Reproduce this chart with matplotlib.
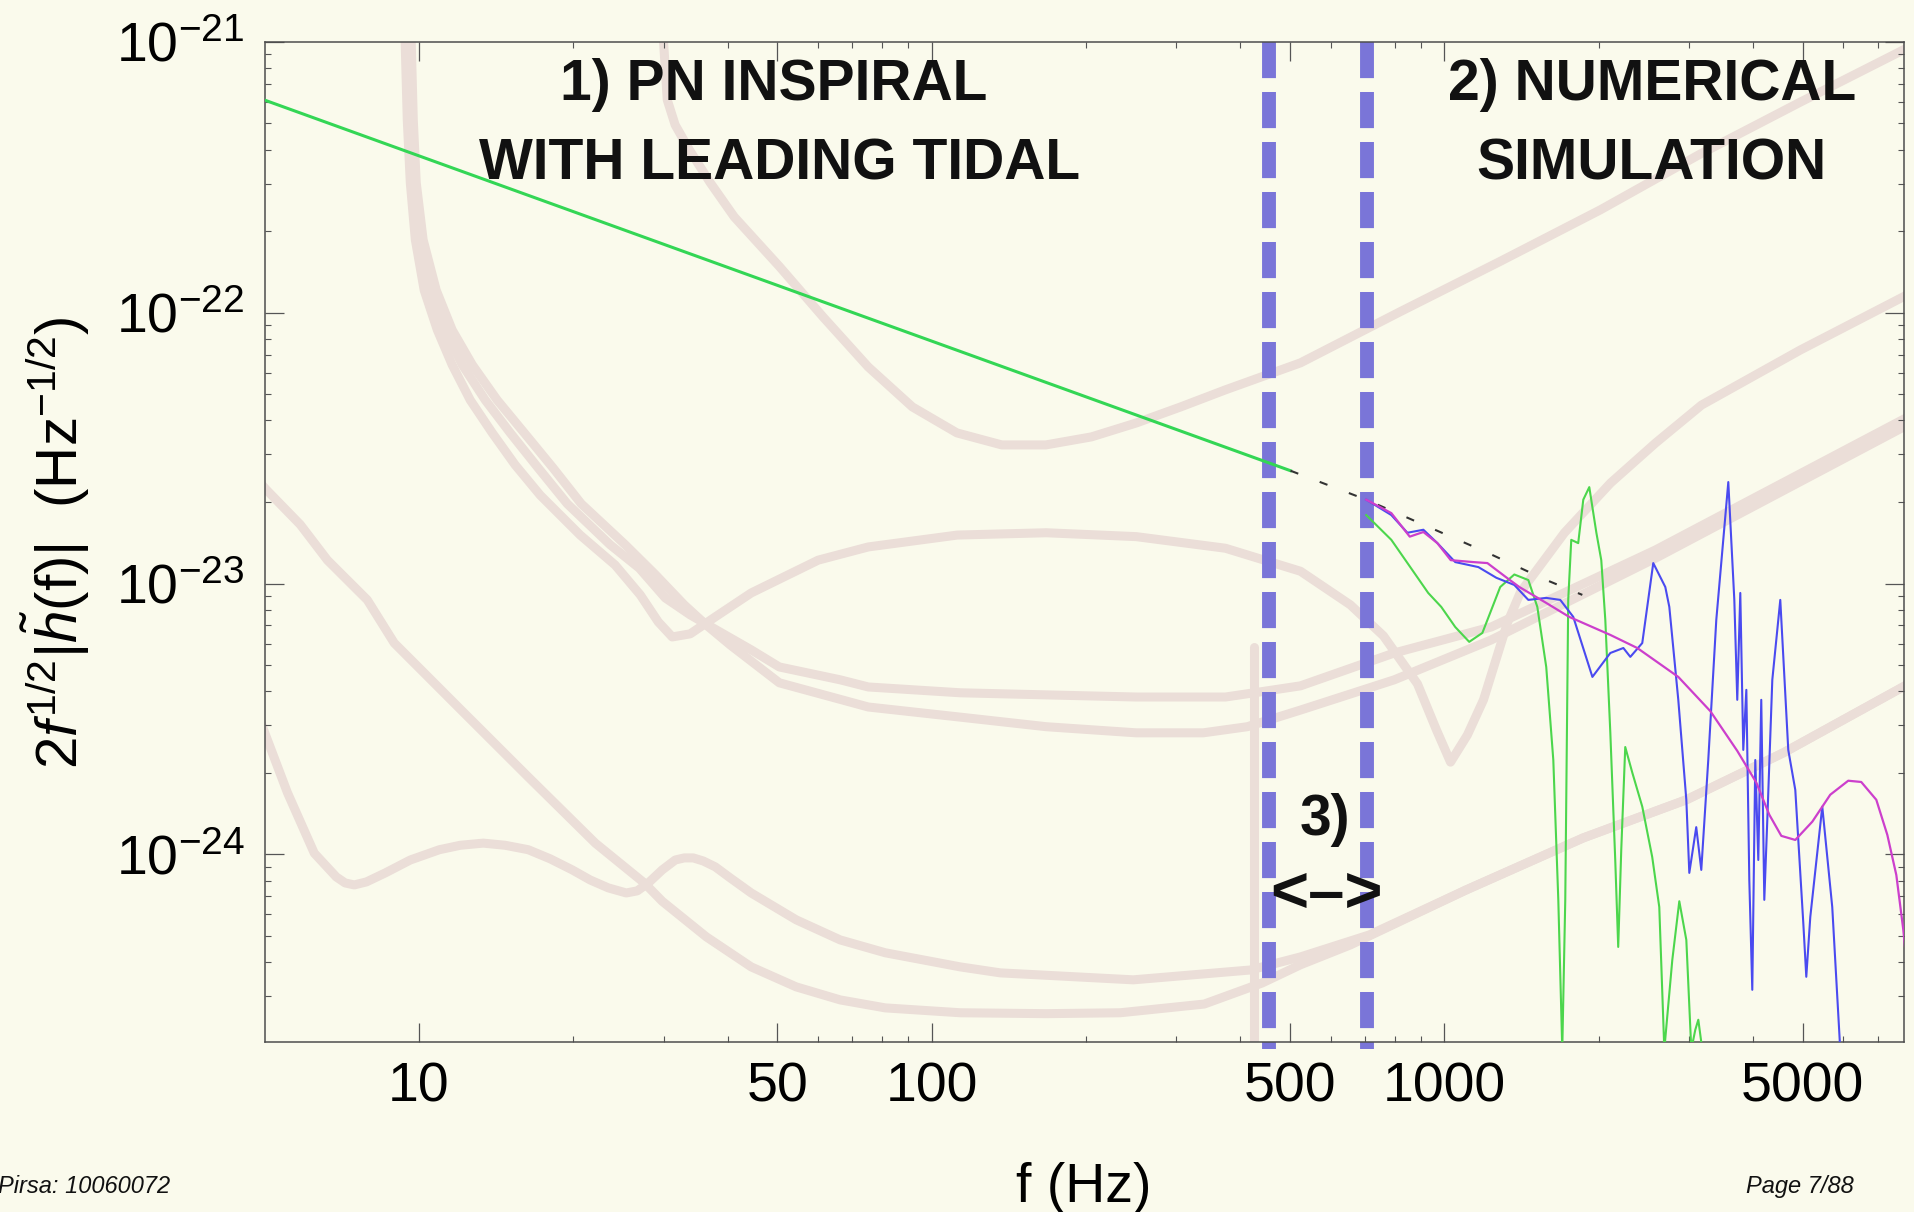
import numpy as np
import matplotlib
matplotlib.use("Agg")
import matplotlib.pyplot as plt
from matplotlib.ticker import FixedLocator, FuncFormatter, NullFormatter

plt.rcParams["font.family"] = ["Liberation Sans", "DejaVu Sans"]
plt.rcParams["mathtext.fontset"] = "custom"
plt.rcParams["mathtext.rm"] = "Liberation Sans"
plt.rcParams["mathtext.it"] = "Liberation Sans:italic"
plt.rcParams["mathtext.bf"] = "Liberation Sans:bold"

AMP_UNIT = 1e-24  # amplitudes below are listed in units of 1e-24 Hz^-1/2

# ---- detector noise curves (frequency in Hz, amplitude in AMP_UNIT) ----
noise_a_freq = [29.7, 30.0, 30.5, 31.6, 33.7, 37.0, 41.2, 50.5, 61.4, 75.2, 91.7, 112, 137,
                167, 205, 251, 306, 374, 524, 821, 1287, 2016, 3159, 4950, 7652, 8860]
noise_a_amp = [1205, 1000, 611, 494, 399, 302, 226, 148, 96.5, 63.1, 44.9, 36.0, 32.5,
               32.5, 34.8, 39.2, 44.9, 51.9, 65.3, 101, 155, 240, 386, 600, 911, 1052]

noise_b_freq = [9.32, 9.40, 9.49, 9.62, 9.84, 10.24, 10.86, 11.61, 12.59, 13.90, 15.41,
                17.24, 20.63, 24.14, 27.02, 29.29, 31.19, 33.82, 37.84, 44.47, 60.07,
                75.23, 112.2, 167.3, 250.6, 374.1, 524.1, 655.7, 760.5, 886.2, 965, 1028,
                1109, 1192, 1327, 1408, 1715, 2109, 2580, 3173, 4950, 8873]
noise_b_amp = [1205, 1000, 515, 302, 186, 121, 86.4, 64.2, 47.6, 36.0, 27.4,
               21.2, 15.1, 11.7, 9.08, 7.22, 6.35, 6.52, 7.53, 9.23, 12.2,
               13.65, 15.1, 15.4, 14.9, 13.5, 11.1, 8.34, 6.41, 4.26, 2.88, 2.19,
               2.76, 3.72, 7.15, 9.31, 15.4, 23.5, 33.0, 45.6, 72.9, 129]

noise_c_freq = [9.45, 9.53, 9.62, 9.75, 10.01, 10.52, 11.25, 12.15, 13.47, 15.07, 17.09,
                19.47, 23.61, 26.90, 30.23, 33.82, 37.17, 44.47, 50.45, 66.32, 75.23,
                113.7, 167.3, 250.6, 374.1, 437.4, 524.1, 798.4, 1234, 2580, 8873]
noise_c_amp = [1205, 1000, 515, 302, 186, 121, 86.4, 64.2, 47.6, 36.0, 26.7,
               19.7, 13.9, 11.4, 8.85, 7.66, 6.91, 5.69, 4.92, 4.41, 4.15,
               3.95, 3.88, 3.81, 3.81, 3.98, 4.19, 5.54, 6.91, 13.3, 45.6]

noise_d_freq = [9.58, 9.66, 9.75, 9.88, 10.19, 10.81, 11.61, 12.71, 14.21, 16.05, 18.27,
                20.73, 25.26, 28.90, 32.92, 36.34, 40.48, 50.45, 75.23, 112.2, 167.3,
                250.6, 338.6, 412.7, 524.1, 798.4, 1234, 2580, 8873]
noise_d_amp = [1205, 1000, 515, 302, 186, 121, 86.4, 64.2, 47.6, 36.0, 26.7,
               19.7, 13.9, 10.8, 8.34, 7.03, 5.93, 4.30, 3.50, 3.22, 2.96,
               2.81, 2.81, 2.96, 3.41, 4.41, 6.19, 12.4, 42.7]

noise_e_freq = [4.80, 5.04, 5.87, 6.63, 7.93, 8.95, 12.09, 16.34, 22.08, 27.51, 29.82,
                36.34, 44.47, 54.43, 66.32, 81.19, 113.7, 167.3, 233.3, 340.2, 441.3,
                524.1, 655.7, 1103, 1866, 2964, 4581, 8873]
noise_e_amp = [24.6, 22.2, 16.5, 12.2, 8.70, 6.03, 3.41, 1.93, 1.10, 0.784, 0.671,
               0.496, 0.384, 0.324, 0.290, 0.271, 0.260, 0.258, 0.260, 0.280, 0.335,
               0.391, 0.463, 0.739, 1.15, 1.59, 2.37, 4.72]

noise_f_freq = [4.80, 5.04, 5.54, 6.25, 6.90, 7.18, 7.48, 7.90, 8.60, 9.62, 10.96, 12.04,
                13.35, 14.73, 16.34, 18.04, 19.91, 21.58, 23.40, 25.37, 26.66, 28.01,
                29.82, 31.62, 32.92, 34.28, 35.85, 37.84, 40.48, 44.47, 54.43, 66.32,
                81.19, 113.7, 136.1, 247.3, 418.2, 524.1, 713.9, 1103, 1866, 2964, 4581,
                8873]
noise_f_amp = [3.47, 2.71, 1.69, 1.01, 0.825, 0.784, 0.771, 0.791, 0.854, 0.953, 1.04, 1.08,
               1.10, 1.08, 1.04, 0.962, 0.876, 0.804, 0.752, 0.720, 0.733, 0.784,
               0.876, 0.953, 0.970, 0.970, 0.945, 0.899, 0.818, 0.720, 0.573, 0.483,
               0.433, 0.384, 0.365, 0.344, 0.374, 0.418, 0.504, 0.739, 1.15, 1.59, 2.37,
               4.72]

noise_g_freq = [426, 426]
noise_g_amp = [0.19, 5.83]

# ---- 1) post-Newtonian inspiral with leading tidal term ----
pn_freq = [5.0, 501]
pn_amp = [610, 26.1]
pn_ext_freq = [501, 704, 930, 1213, 1581, 1858]
pn_ext_amp = [26.1, 20.4, 16.2, 13.0, 10.3, 9.08]

# ---- 3) matching window ----
match_window = [454, 705]

# ---- 2) numerical simulations ----
nr_magenta_freq = [704, 788, 856, 910, 969, 1029, 1139, 1213, 1315, 1400, 1580, 1752,
                   2107, 2378, 2859, 3301, 3726, 4059, 4303, 4541, 4835, 5219, 5657,
                   6133, 6502, 6957, 7310, 7611, 7854, 8104]
nr_magenta_amp = [20.4, 18.2, 14.9, 15.5, 14.1, 12.2, 12.0, 11.9, 10.6, 9.71, 8.48, 7.53,
                  6.46, 5.78, 4.52, 3.38, 2.41, 1.84, 1.40, 1.17, 1.13, 1.32, 1.66,
                  1.87, 1.85, 1.59, 1.18, 0.839, 0.526, 0.290]

nr_blue_freq = [704, 788, 847, 910, 969, 1050, 1165, 1263, 1369, 1458, 1580, 1683, 1784,
                1944, 2107, 2234, 2305, 2432, 2555, 2697, 2746, 2859, 2964, 3004, 3099,
                3170, 3271, 3391, 3579, 3677, 3726, 3777, 3828, 3881, 3933, 3986, 4040,
                4095, 4150, 4207, 4264, 4361, 4520, 4685, 4835, 5012, 5080, 5172, 5458,
                5708, 5917]
nr_blue_amp = [20.4, 17.9, 15.4, 15.8, 14.1, 12.0, 11.5, 10.5, 9.88, 8.70, 8.85, 8.70, 7.53,
               4.52, 5.54, 5.78, 5.36, 6.03, 11.9, 9.71, 8.20, 3.72, 1.59, 0.854, 1.26,
               0.876, 2.23, 7.34, 23.7, 8.70, 3.72, 9.23, 2.43, 4.05, 0.804, 0.316, 2.23,
               0.953, 3.72, 0.679, 1.34, 4.41, 8.70, 2.43, 1.73, 0.558, 0.353, 0.587, 1.50,
               0.639, 0.190]

nr_green_freq = [704, 788, 858, 930, 986, 1050, 1118, 1186, 1285, 1369, 1458, 1518, 1580,
                 1631, 1668, 1698, 1721, 1744, 1768, 1824, 1866, 1917, 1979, 2023, 2060,
                 2107, 2154, 2183, 2213, 2253, 2326, 2432, 2543, 2625, 2685, 2783, 2872,
                 2964, 3031, 3086, 3128, 3184]
nr_green_amp = [17.9, 14.5, 11.5, 9.23, 8.20, 6.91, 6.09, 6.57, 9.71, 10.8, 10.3, 8.20, 4.92,
                2.23, 0.679, 0.19, 0.679, 8.70, 14.5, 14.1, 20.4, 22.7, 15.4, 12.2, 7.34,
                2.81, 0.953, 0.455, 1.04, 2.49, 2.00, 1.50, 0.978, 0.639, 0.19, 0.407, 0.671,
                0.483, 0.19, 0.225, 0.245, 0.19]

x_ticks = [10, 50, 100, 500, 1000, 5000]
x_minor = [20, 30, 40, 60, 70, 80, 90, 200, 300, 400, 600, 700, 800, 900,
           2000, 3000, 4000, 6000, 7000]
y_ticks = [1e-24, 1e-23, 1e-22, 1e-21]

BG = "#FAFAEC"
NOISE = "#EBDED8"
DASH = "#7A75D8"


def amp(values):
    return np.asarray(values) * AMP_UNIT


fig = plt.figure(figsize=(19.14, 12.12), dpi=100, facecolor=BG)
ax = fig.add_axes([0.1387, 0.1399, 0.8561, 0.8255])
ax.set_facecolor(BG)
ax.set_xscale("log")
ax.set_yscale("log")
ax.set_xlim(5.02, 7880)
ax.set_ylim(2.02e-25, 1e-21)

noise_style = dict(color=NOISE, lw=6.5, solid_capstyle="round", solid_joinstyle="round", zorder=1)
for fq, am in [(noise_e_freq, noise_e_amp), (noise_f_freq, noise_f_amp),
               (noise_d_freq, noise_d_amp), (noise_c_freq, noise_c_amp),
               (noise_b_freq, noise_b_amp), (noise_a_freq, noise_a_amp),
               (noise_g_freq, noise_g_amp)]:
    ax.plot(fq, amp(am), **noise_style)

# matching window boundaries
for f0 in match_window:
    ax.plot([f0, f0], [1.0, -0.007], transform=ax.get_xaxis_transform(), color=DASH,
            lw=10, dashes=(2.6, 1.0), solid_capstyle="butt", dash_capstyle="butt",
            clip_on=False, zorder=2)

ax.plot(pn_freq, amp(pn_amp), color="#33D655", lw=2.2, zorder=3)
ax.plot(pn_ext_freq, amp(pn_ext_amp), color="#333333", lw=1.5, dashes=(4, 11), zorder=3)

ax.plot(nr_green_freq, amp(nr_green_amp), color="#4CD64C", lw=1.5, zorder=4)
ax.plot(nr_blue_freq, amp(nr_blue_amp), color="#4A4AF0", lw=1.5, zorder=4)
ax.plot(nr_magenta_freq, amp(nr_magenta_amp), color="#CC3FCC", lw=1.6, zorder=5)

# axes styling
ax.xaxis.set_major_locator(FixedLocator(x_ticks))
ax.xaxis.set_major_formatter(FuncFormatter(lambda v, p: f"{v:g}"))
ax.xaxis.set_minor_locator(FixedLocator(x_minor))
ax.xaxis.set_minor_formatter(NullFormatter())
ax.yaxis.set_major_locator(FixedLocator(y_ticks))
ax.yaxis.set_major_formatter(FuncFormatter(lambda v, p: r"$10^{%d}$" % round(np.log10(v))))
ax.yaxis.set_minor_locator(FixedLocator([m * 10.0 ** e for e in range(-25, -21) for m in range(2, 10)]))
ax.yaxis.set_minor_formatter(NullFormatter())

for s in ax.spines.values():
    s.set_color("#4d4d4d")
    s.set_linewidth(1.1)
ax.tick_params(which="both", direction="in", top=True, right=True, color="#555555")
ax.tick_params(which="major", length=13.5, width=0.9, labelsize=40)
ax.tick_params(which="minor", length=4.5, width=0.8)
ax.tick_params(axis="x", pad=14)
ax.tick_params(axis="y", pad=15)

ax.set_xlabel("f (Hz)", fontsize=40)
ax.xaxis.set_label_coords(0.4995, -0.119)
ax.set_ylabel(r"$2f^{1/2}|\tilde{h}(\mathrm{f})|$  (Hz$^{-1/2}$)", fontsize=42)
ax.yaxis.set_label_coords(-0.106, 0.5)

# region annotations
bold = dict(fontsize=41, fontweight="bold", ha="center", va="baseline", color="#111111", zorder=6)
fig.text(0.4044, 0.9175, "1) PN INSPIRAL", **bold)
fig.text(0.4075, 0.8523, "WITH LEADING TIDAL", **bold)
fig.text(0.8631, 0.9175, "2) NUMERICAL", **bold)
fig.text(0.8626, 0.8523, "SIMULATION", **bold)
fig.text(0.6923, 0.3110, "3)", **bold)
fig.text(0.6928, 0.2475, "<\u2013>", **{**bold, "fontsize": 47})

foot = dict(fontsize=17, style="italic", va="baseline", color="#111111",
            family=["Liberation Sans Narrow", "Liberation Sans"])
fig.text(-0.001, 0.0157, "Pirsa: 10060072", ha="left", **foot)
fig.text(0.9687, 0.0157, "Page 7/88", ha="right", **foot)

fig.savefig("out.png", dpi=100, facecolor=BG)
